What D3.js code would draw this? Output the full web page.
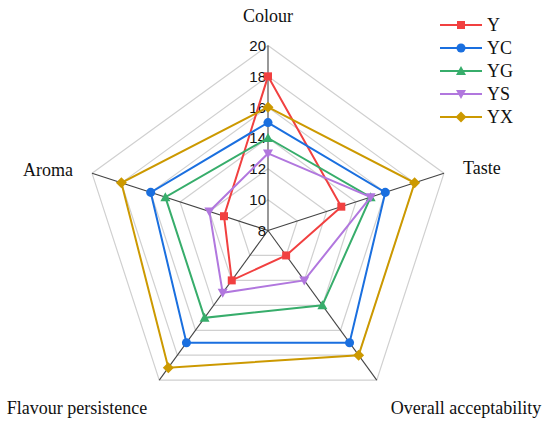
<!DOCTYPE html>
<html><head><meta charset="utf-8">
<script src="https://cdn.jsdelivr.net/npm/d3@7"></script>
<style>body{margin:0;background:#fff}svg{display:block}
.serif{font-family:"Liberation Serif","Times New Roman",serif}
.sans{font-family:"Liberation Sans",Arial,sans-serif}
</style>
</head><body><svg id="c" width="550" height="424"></svg>
<script>
const axes = ["Colour","Taste","Overall acceptability","Flavour persistence","Aroma"];
const seriesNames = ["Y","YC","YG","YS","YX"];
const Y  = [18,13,10,12,11];
const YC = [15,16,17,17,16];
const YG = [14,15,14,15,15];
const YS = [13,15,12,13,12];
const YX = [16,18,18,19,18];
const ticks = [8,10,12,14,16,18,20];
const colors = ["#F14040","#1A6FDF","#37AD6B","#B177DE","#CC9900"];
const shapes = ["square","circle","tri","tridown","diamond"];
const data = [Y,YC,YG,YS,YX];

const svg = d3.select("#c");
const cx = 268, cy = 230.5, R = 185;
const r = d3.scaleLinear().domain([8,20]).range([0,R]);
const ang = d3.scaleLinear().domain([0,axes.length]).range([0,2*Math.PI]);
const pt = (i,v)=>{const a=ang(i); return [cx+r(v)*Math.sin(a), cy-r(v)*Math.cos(a)];};

// grid
const g = svg.append("g");
ticks.slice(1).forEach(t=>{
  g.append("polygon").attr("points", axes.map((_,i)=>pt(i,t).join(",")).join(" "))
   .attr("fill","none").attr("stroke","#d0d0d0").attr("stroke-width",1.2);
});
axes.forEach((_,i)=>{
  const p = pt(i,20);
  g.append("line").attr("x1",cx).attr("y1",cy).attr("x2",p[0]).attr("y2",p[1])
   .attr("stroke","#444").attr("stroke-width",1.1);
});
// tick labels
ticks.forEach(t=>{
  g.append("text").attr("class","sans").attr("x",cx-2).attr("y",cy-r(t)).attr("dy","0.36em")
   .attr("text-anchor","end").attr("font-size",15).attr("fill","#111").text(t);
});
// axis labels
const labelPos = [
  {x:268,y:22,anchor:"middle"},
  {x:463,y:174,anchor:"start"},
  {x:466,y:414,anchor:"middle"},
  {x:77,y:414,anchor:"middle"},
  {x:73,y:176,anchor:"end"}
];
axes.forEach((a,i)=>{
  svg.append("text").attr("class","serif").attr("x",labelPos[i].x).attr("y",labelPos[i].y)
   .attr("text-anchor",labelPos[i].anchor)
   .attr("font-size",18).attr("fill","#111").text(a);
});

function markerPath(k){
  const s = shapes[k];
  if (s==="square") return "M-4,-4H4V4H-4Z";
  if (s==="circle") return d3.symbol().type(d3.symbolCircle).size(64)();
  if (s==="tri") return "M0,-5L5,4L-5,4Z";
  if (s==="tridown") return "M0,5L5,-4L-5,-4Z";
  return "M0,-5.5L5.5,0L0,5.5L-5.5,0Z";
}
function marker(sel,k,x,y){
  return sel.append("path").attr("d",markerPath(k)).attr("fill",colors[k])
    .attr("transform",`translate(${x},${y})`);
}

const line = d3.line().curve(d3.curveLinearClosed);
data.forEach((vals,k)=>{
  const pts = vals.map((v,i)=>pt(i,v));
  const sg = svg.append("g");
  sg.append("path").attr("d",line(pts)).attr("fill","none").attr("stroke",colors[k]).attr("stroke-width",2);
  pts.forEach(p=>marker(sg,k,p[0],p[1]));
});

// legend
const lg = svg.append("g");
const ly = [25,48,71,94,117];
seriesNames.forEach((n,k)=>{
  lg.append("line").attr("x1",440).attr("x2",482).attr("y1",ly[k]).attr("y2",ly[k])
    .attr("stroke",colors[k]).attr("stroke-width",2);
  marker(lg,k,461,ly[k]);
  lg.append("text").attr("class","serif").attr("x",487).attr("y",ly[k]).attr("dy","0.35em")
    .attr("font-size",18).attr("fill","#111").text(n);
});
</script></body></html>
